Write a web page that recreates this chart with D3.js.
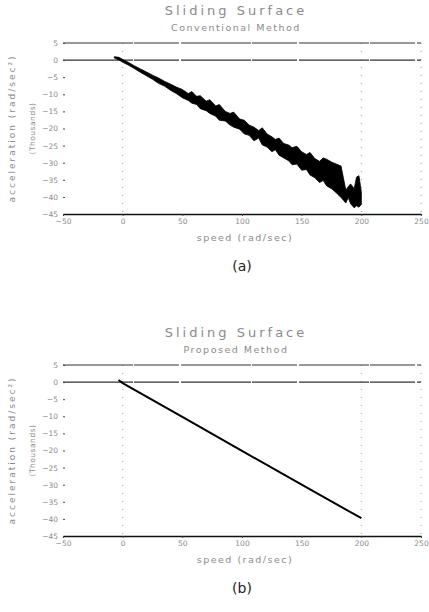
<!DOCTYPE html>
<html>
<head>
<meta charset="utf-8">
<script src="https://cdn.jsdelivr.net/npm/d3@7"></script>
<style>
  body { margin: 0; background: #fff; }
  svg { display: block; }
  .lbl { font-family: "DejaVu Sans", sans-serif; fill: #8a8a8a; }
</style>
</head>
<body>
<svg id="chart" width="429" height="612"></svg>
<script>
// x ticks / y ticks shared by both panels
const speedTicks = [-50, 0, 50, 100, 150, 200, 250];
const accelTicks = [5, 0, -5, -10, -15, -20, -25, -30, -35, -40, -45];

// (a) conventional method: noisy band, upper and lower edge (thousands rad/sec^2)
const speedA = [-7, -3, 0, 5, 10, 15, 20, 25, 30, 35, 40, 45, 50, 55, 58, 62, 65, 70, 73,
  78, 81, 86, 90, 93, 98, 102, 106, 110, 114, 117, 121, 125, 128, 131, 135, 139, 142, 146,
  150, 154, 157, 161, 165, 168, 171, 175, 179, 183, 185, 187, 189, 191, 194, 196, 198, 200];
const hiA = [1.0, 0.8, 0.2, -0.7, -1.7, -2.6, -3.5, -4.4, -5.2, -6.2, -7.0, -7.9, -8.6,
  -9.8, -9.2, -10.6, -10.4, -12.0, -11.6, -13.4, -13.0, -15.0, -15.6, -15.2, -17.2, -17.6,
  -19.0, -19.6, -20.6, -19.8, -21.6, -22.4, -23.2, -22.8, -24.4, -24.8, -25.6, -25.2,
  -26.8, -27.6, -27.0, -28.8, -29.6, -28.6, -29.0, -29.8, -30.4, -31.0, -34.5, -38.0,
  -37.0, -36.2, -37.6, -34.2, -33.8, -38.5];
const loA = [0.6, 0.0, -0.6, -1.5, -2.5, -3.6, -4.6, -5.6, -6.8, -7.6, -8.8, -9.8, -11.0,
  -11.8, -12.6, -13.0, -14.2, -14.8, -15.6, -16.4, -17.6, -17.8, -19.0, -19.6, -20.2,
  -21.6, -22.0, -23.6, -22.8, -24.8, -25.4, -26.8, -26.2, -27.8, -28.6, -29.4, -30.6,
  -30.4, -32.2, -32.0, -33.6, -34.4, -35.8, -35.2, -36.8, -37.6, -38.8, -40.2, -41.0,
  -41.8, -40.2, -42.0, -43.2, -42.6, -43.0, -42.2];

// (b) proposed method: clean straight surface
const speedB = [-3.5, 0, 50, 100, 150, 200];
const accelB = [0.6, -0.3, -10.2, -20.1, -30.0, -39.8];

const svg = d3.select("#chart");

function drawPanel(top, title, subtitle, caption, draw) {
  const x = d3.scaleLinear().domain([-50, 250]).range([63, 421]);
  const y = d3.scaleLinear().domain([-45, 5]).range([top + 171, top]);
  const g = svg.append("g");

  // titles
  g.append("text").attr("class", "lbl")
    .attr("x", 236).attr("y", top - 28)
    .attr("text-anchor", "middle")
    .style("font-size", "13px").style("letter-spacing", "3px")
    .text(title);
  g.append("text").attr("class", "lbl")
    .attr("x", 236).attr("y", top - 12)
    .attr("text-anchor", "middle")
    .style("font-size", "9.5px").style("letter-spacing", "1.5px")
    .text(subtitle);

  // dotted verticals
  [0, 200, 250].forEach(v => {
    g.append("line")
      .attr("x1", x(v)).attr("x2", x(v))
      .attr("y1", y(5)).attr("y2", y(-45))
      .attr("stroke", "#999").attr("stroke-width", 1)
      .attr("stroke-dasharray", "1,7");
  });

  // horizontal frame lines (top edge and zero line)
  [5, 0].forEach(v => {
    g.append("line").attr("x1", x(-50)).attr("x2", x(250))
      .attr("y1", y(v)).attr("y2", y(v))
      .attr("stroke", "#333").attr("stroke-width", 1.1)
      .attr("stroke-dasharray", "70,1,45,2");
  });

  // y axis (ticks only)
  const ya = g.append("g")
    .attr("transform", `translate(${x(-50) + 2},0)`)
    .call(d3.axisLeft(y).tickValues(accelTicks).tickSize(2).tickPadding(5));
  ya.select(".domain").remove();
  ya.selectAll("line").attr("stroke", "#444");
  ya.selectAll("text").attr("class", "lbl").style("font-size", "7.5px");

  // x axis along bottom
  const xa = g.append("g")
    .attr("transform", `translate(0,${y(-45)})`)
    .call(d3.axisBottom(x).tickValues(speedTicks).tickSize(2).tickSizeOuter(0).tickPadding(3));
  xa.select(".domain").attr("stroke", "#111").attr("stroke-width", 1.4);
  xa.selectAll("line").attr("stroke", "#444");
  xa.selectAll("text").attr("class", "lbl").style("font-size", "7.5px");

  // axis titles
  g.append("text").attr("class", "lbl")
    .attr("x", 245).attr("y", y(-45) + 27)
    .attr("text-anchor", "middle")
    .style("font-size", "9.5px").style("letter-spacing", "1.5px")
    .text("speed (rad/sec)");
  g.append("text").attr("class", "lbl")
    .attr("transform", `translate(15,${y(-20)}) rotate(-90)`)
    .attr("text-anchor", "middle")
    .style("font-size", "9px").style("letter-spacing", "2px")
    .text("acceleration (rad/sec²)");
  g.append("text").attr("class", "lbl")
    .attr("transform", `translate(35,${y(-20)}) rotate(-90)`)
    .attr("text-anchor", "middle")
    .style("font-size", "7.5px").style("letter-spacing", "0.5px")
    .text("(Thousands)");

  // caption
  g.append("text")
    .attr("x", 242).attr("y", y(-45) + 57)
    .attr("text-anchor", "middle")
    .style("font-family", "DejaVu Sans, sans-serif")
    .style("font-size", "14px").attr("fill", "#222")
    .text(caption);

  draw(g, x, y);
}

drawPanel(43, "Sliding Surface", "Conventional Method", "(a)", (g, x, y) => {
  const band = speedA.map((s, i) => ({ s, hi: hiA[i], lo: loA[i] }));
  g.append("path").datum(band)
    .attr("d", d3.area().x(d => x(d.s)).y0(d => y(d.lo)).y1(d => y(d.hi)))
    .attr("fill", "#000").attr("stroke", "#000").attr("stroke-width", 0.8)
    .attr("stroke-linejoin", "miter");
});

drawPanel(365, "Sliding Surface", "Proposed Method", "(b)", (g, x, y) => {
  const pts = speedB.map((s, i) => [s, accelB[i]]);
  g.append("path").datum(pts)
    .attr("d", d3.line().x(d => x(d[0])).y(d => y(d[1])))
    .attr("fill", "none").attr("stroke", "#000").attr("stroke-width", 2);
});
</script>
</body>
</html>
